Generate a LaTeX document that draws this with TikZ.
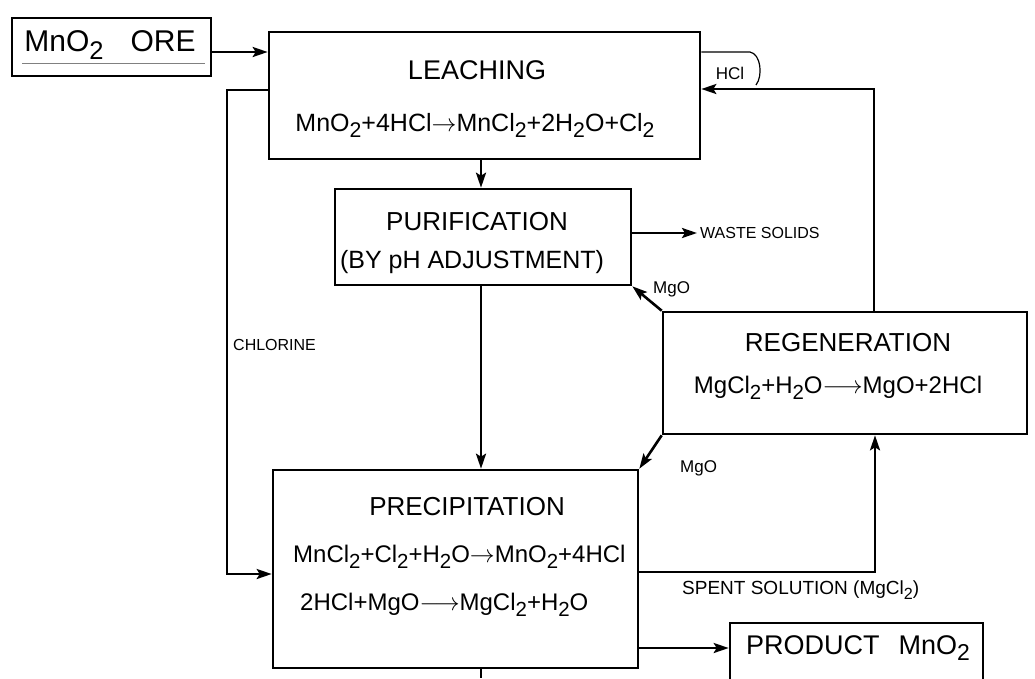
\documentclass[tikz,border=0pt]{standalone}
\usepackage{fontspec}
\setmainfont{Liberation Sans}
\usepackage{graphicx}
\usetikzlibrary{arrows.meta}
\newcommand\sbs[1]{\raisebox{-0.45ex}{\scalebox{0.85}{#1}}}
\begin{document}
\begin{tikzpicture}[x=1pt,y=-1pt,
  box/.style={draw, rectangle, inner sep=0pt, line width=2.6pt},
  conn/.style={line width=2.6pt, -{Stealth[length=15pt,width=10pt,inset=3pt]}},
  plain/.style={line width=2.6pt},
  ttl/.style={font=\fontsize{26}{28}\selectfont, inner sep=0pt},
  eqn/.style={font=\fontsize{24}{26}\selectfont, inner sep=0pt},
  lbl/.style={font=\fontsize{16}{18}\selectfont, inner sep=0pt},
  mlbl/.style={font=\fontsize{17}{19}\selectfont, inner sep=0pt}]
\useasboundingbox (0,0) rectangle (1035,678);
\clip (0,0) rectangle (1035,678);
\fill[white] (0,0) rectangle (1035,678);

% boxes
\node[box, minimum width=199pt, minimum height=58pt] (ore) at (111.5,47) {};
\node[box, minimum width=431pt, minimum height=127pt] (leach) at (484.5,95.5) {};
\node[box, minimum width=296pt, minimum height=96pt] (purif) at (483,237) {};
\node[box, minimum width=364pt, minimum height=122pt] (regen) at (845,373) {};
\node[box, minimum width=365pt, minimum height=198pt] (precip) at (455.5,569) {};
\node[box, minimum width=253pt, minimum height=70pt] (prod) at (856.5,658) {};

% texts
\node[font=\fontsize{30}{32}\selectfont, inner sep=0pt] (oreT) at (110,45) {MnO\sbs{2}\hspace{0.9em}ORE};
\draw[line width=0.8pt, gray] (22,63) -- (205,63);
\node[ttl, font=\fontsize{27}{29}\selectfont] (leachT) at (477,70) {LEACHING};
\node[eqn, font=\fontsize{25}{27}\selectfont] (leachE) at (475,125) {MnO\sbs{2}+4HCl$\rightarrow$MnCl\sbs{2}+2H\sbs{2}O+Cl\sbs{2}};
\node[ttl] (purifT) at (477,222) {PURIFICATION};
\node[ttl, font=\fontsize{25}{27}\selectfont] (purifS) at (472,262) {(BY pH ADJUSTMENT)};
\node[ttl] (regenT) at (848,343) {REGENERATION};
\node[eqn] (regenE) at (838,388) {MgCl\sbs{2}+H\sbs{2}O$\longrightarrow$MgO+2HCl};
\node[ttl] (precipT) at (467,507) {PRECIPITATION};
\node[eqn, anchor=west] (precipE1) at (293,557) {MnCl\sbs{2}+Cl\sbs{2}+H\sbs{2}O$\rightarrow$MnO\sbs{2}+4HCl};
\node[eqn, anchor=west] (precipE2) at (300,605) {2HCl+MgO$\longrightarrow$MgCl\sbs{2}+H\sbs{2}O};
\node[font=\fontsize{27}{29}\selectfont, inner sep=0pt] (prodT) at (858,648) {PRODUCT\hspace{0.7em}MnO\sbs{2}};

% coordinates
\coordinate (oreY) at (0,52);
\coordinate (vx) at (481,0);
\coordinate (clA) at (227,90);
\coordinate (clB) at (227,574);
\coordinate (hclT) at (874,89);
\coordinate (waste) at (697,233);
\coordinate (sp) at (875,572);
\coordinate (prY) at (0,648);
\coordinate (bot) at (481,678);

% connectors
\draw[conn] (ore.east |- oreY) -- (leach.west |- oreY);
\draw[conn] (leach.south -| vx) -- (purif.north -| vx);
\draw[conn] (purif.south -| vx) -- (precip.north -| vx);
\draw[conn] (purif.east |- waste) -- (waste);
\node[lbl, anchor=west] (wasteL) at ([xshift=3pt]waste) {WASTE SOLIDS};
\draw[conn] (leach.west |- clA) -- (clA) -- (clB) -- (clB -| precip.west);
\node[lbl, anchor=west] (clL) at (233,345) {CHLORINE};
\draw[conn] (regen.north -| hclT) -- (hclT) -- (hclT -| leach.east);
\draw[line width=1.2pt] (leach.east |- 0,52) -- (750,52) .. controls (761,54) and (763,76) .. (756,85);
\node[mlbl] (hclL) at (730,73) {HCl};
\draw[conn] (regen.north west) -- (purif.south east);
\node[mlbl, anchor=west] (mgo1) at (653,289) {MgO};
\draw[conn] (regen.south west) -- (precip.north east);
\node[mlbl, anchor=west] (mgo2) at (680,468) {MgO};
\draw[conn] (precip.east |- sp) -- (sp) -- (sp |- regen.south);
\node[font=\fontsize{19}{21}\selectfont, inner sep=0pt, anchor=west] (spL) at (682,590) {SPENT SOLUTION (MgCl\sbs{2})};
\draw[conn] (precip.east |- prY) -- (prod.west |- prY);
\draw[plain] (precip.south -| vx) -- (bot);
\end{tikzpicture}
\end{document}
